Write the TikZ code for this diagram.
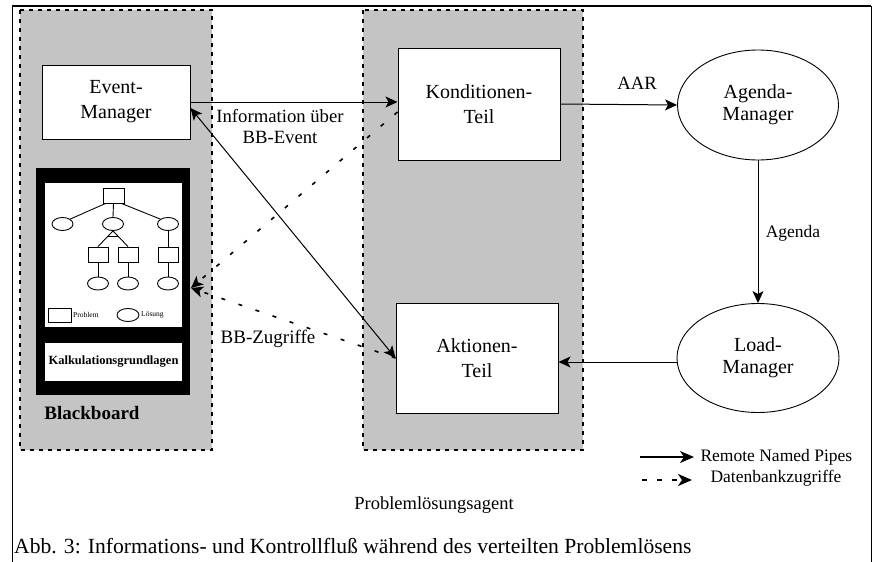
\documentclass[tikz,border=0pt]{standalone}
\usepackage{fontspec}
\setmainfont{Liberation Serif}
\usetikzlibrary{shapes.geometric,arrows.meta,calc}
\tikzset{
  region/.style={fill=black!23, draw=black, line width=1.3pt, dash pattern=on 4pt off 5pt},
  box/.style={draw, fill=white, line width=1pt, align=center, inner sep=0pt, font=\fontsize{20}{25}\selectfont},
  ell/.style={ellipse, draw, fill=white, line width=0.9pt, align=center, inner sep=0pt, font=\fontsize{20}{22}\selectfont},
  pipe/.style={line width=1pt, -{Stealth[length=12pt,width=11pt,inset=3pt]}},
  dbarrow/.style={line width=1.6pt, dash pattern=on 4pt off 14pt, -{Stealth[length=12pt,width=11pt,inset=3pt]}},
  lbl/.style={align=center, font=\fontsize{18.7}{21}\selectfont},
  tbox/.style={draw, line width=0.9pt, minimum width=20pt, minimum height=15pt, inner sep=0pt},
  tell/.style={ellipse, draw, line width=0.9pt, minimum width=21pt, minimum height=13pt, inner sep=0pt},
  tline/.style={line width=0.9pt},
}
\begin{document}
\begin{tikzpicture}[x=1pt, y=-1pt]
\useasboundingbox (0,0) rectangle (873,562);
\fill[white] (0,0) rectangle (873,562);
% frame
\draw[line width=1.8pt] (12,6) -- (871,6);
\draw[line width=1pt] (12,6) -- (12,562);
\draw[line width=0.8pt] (871,6) -- (871,562);
% shaded regions
\path[region] (20,10) rectangle (212,450);
\path[region] (363,10) rectangle (583,450);
% main nodes
\node[box, minimum width=148pt, minimum height=74pt] (em) at (116,102) {Event-\\Manager};
\node[box, minimum width=162pt, minimum height=112pt] (kt) at (479,104) {Konditionen-\\Teil};
\node[box, minimum width=162pt, minimum height=110pt] (at) at (477,358) {Aktionen-\\Teil};
\node[ell, minimum width=161pt, minimum height=110pt] (am) at (758,105) {Agenda-\\Manager};
\node[ell, minimum width=162pt, minimum height=109pt] (lm) at (758,358) {Load-\\Manager};
% blackboard
\node[fill=black, minimum width=154pt, minimum height=227pt, inner sep=0pt] (bb) at (113,281.5) {};
\fill[white] (45,183) rectangle (182,327);
\node[fill=white, minimum width=137pt, minimum height=38pt, inner sep=0pt, font=\bfseries\fontsize{12.5}{15}\selectfont] (kalk) at (113.5,362) {Kalkulationsgrundlagen};
\node[font=\bfseries\fontsize{19}{22}\selectfont] (bblabel) at (92,413) {Blackboard};
% tree
\node[tbox, minimum width=21pt] (r0) at (113.5,195.5) {};
\node[tell] (e1) at (62.5,224) {};
\node[tell] (e2) at (113,224) {};
\node[tell] (e3) at (168,224) {};
\node[tbox] (r1) at (98,254.5) {};
\node[tbox] (r2) at (128,254.5) {};
\node[tbox] (r3) at (168,254.5) {};
\node[tell] (e4) at (98,283.5) {};
\node[tell] (e5) at (128,283.5) {};
\node[tell] (e6) at (168,283.5) {};
\draw[tline] ([xshift=3pt]r0.south west) -- (e1.north east);
\draw[tline] (r0.south) -- (e2.north);
\draw[tline] ([xshift=-3pt]r0.south east) -- (e3.north west);
\draw[tline] (e2.south) -- (r1.north);
\draw[tline] (e2.south) -- (r2.north);
\draw[tline] ($(e2.south)!0.35!(r1.north)$) -- ($(e2.south)!0.35!(r2.north)$);
\draw[tline] (e3) -- (r3);
\draw[tline] (r1) -- (e4);
\draw[tline] (r2) -- (e5);
\draw[tline] (r3) -- (e6);
\node[tbox, minimum width=23pt, minimum height=14pt] (lp) at (59.5,315) {};
\node[anchor=west, inner sep=1pt, font=\fontsize{7.5}{8}\selectfont] (lptext) at (72,315) {Problem};
\node[tell, minimum width=22pt] (le) at (128,315) {};
\node[anchor=west, inner sep=1pt, font=\fontsize{7.5}{8}\selectfont] (letext) at (140,315) {Lösung};
% connectors
\draw[pipe] (em.east) -- (em.east -| kt.west);
\draw[line width=1pt, {Stealth[length=12pt,width=11pt,inset=3pt]}-{Stealth[length=12pt,width=11pt,inset=3pt]}] ([yshift=-6pt]em.east) -- (at.west);
\draw[pipe] (kt.east) -- (am.west);
\draw[pipe] (am.south) -- (lm.north);
\draw[pipe] ([yshift=-4pt]lm.west) -- ([yshift=-4pt]at.east);
\coordinate (bbin) at (191,288);
\draw[dbarrow] ([yshift=-8pt]kt.west) -- (bbin);
\draw[dbarrow] (at.west) -- (bbin);
% labels
\node[lbl] (info) at (280,127) {Information über\\BB-Event};
\node[lbl] (aar) at (637,83) {AAR};
\node[lbl, font=\fontsize{17.5}{20}\selectfont] (agl) at (793,233) {Agenda};
\node[lbl, font=\fontsize{19}{21}\selectfont] (bbz) at (268,339) {BB-Zugriffe};
\node[lbl, font=\fontsize{18.5}{21}\selectfont] (pla) at (434,505) {Problemlösungsagent};
% legend
\coordinate (l1a) at (640,457);
\coordinate (l1b) at (694,457);
\draw[line width=1.5pt, -{Stealth[length=14pt,width=12pt,inset=4pt]}] (l1a) -- (l1b);
\node[anchor=west, font=\fontsize{17.5}{20}\selectfont] (l1t) at (697,457) {Remote Named Pipes};
\coordinate (l2a) at (642,480);
\coordinate (l2b) at (692,480);
\draw[line width=1.6pt, dash pattern=on 5pt off 10pt, -{Stealth[length=14pt,width=12pt,inset=4pt]}] (l2a) -- (l2b);
\node[anchor=west, font=\fontsize{17.5}{20}\selectfont] (l2t) at (707,478) {Datenbankzugriffe};
% caption
\node[anchor=west, inner sep=0pt, font=\fontsize{21.6}{24}\selectfont] (cap) at (14,546) {Abb. 3: Informations- und Kontrollfluß während des verteilten Problemlösens};
\end{tikzpicture}
\end{document}
